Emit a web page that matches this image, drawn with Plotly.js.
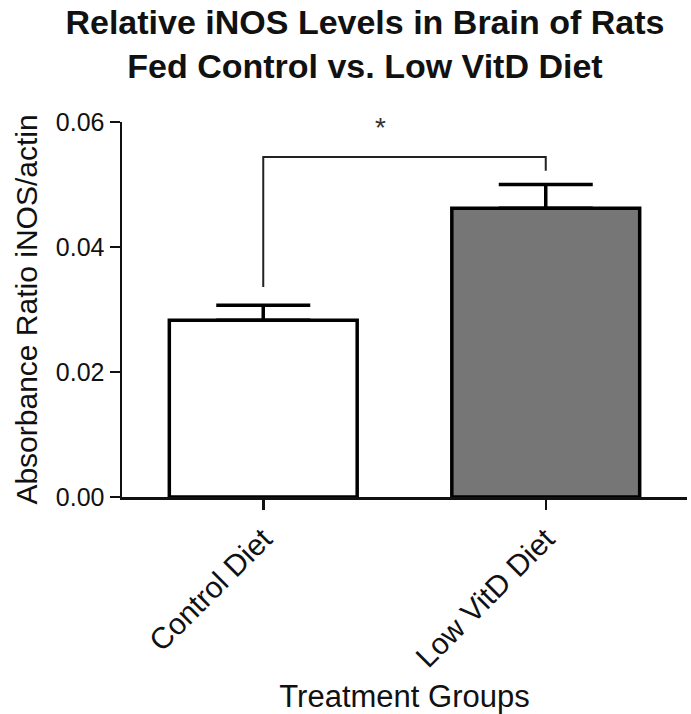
<!DOCTYPE html>
<html>
<head>
<meta charset="utf-8">
<script src="https://cdn.plot.ly/plotly-3.0.1.min.js"></script>
<style>html,body{margin:0;padding:0;background:#fff;}#chart{width:691px;height:714px;}</style>
</head>
<body>
<div id="chart"></div>
<script>
// Data
const categories = ["Control Diet", "Low VitD Diet"];
const means = [0.0283, 0.0462];
const semUpper = [0.0024, 0.0038];
const barColors = ["#ffffff", "#767676"];
// significance bracket (y values, per category: left leg bottom, top, top, right leg bottom)
const bracketX = ["Control Diet", "Control Diet", "Low VitD Diet", "Low VitD Diet"];
const bracketY = [0.0336, 0.0544, 0.0544, 0.0522];
const sigLabel = "*";
const yTicks = [0, 0.02, 0.04, 0.06];
const yTickText = ["0.00", "0.02", "0.04", "0.06"];

const font = "Liberation Sans, Arial, sans-serif";

const traces = [
  {
    type: "bar",
    x: categories,
    y: means,
    marker: { color: barColors, line: { color: "#000", width: 3.5 } },
    error_y: { type: "data", symmetric: false, array: semUpper, arrayminus: [0, 0], color: "#000", thickness: 3.5, width: 47 },
    hoverinfo: "skip",
    showlegend: false
  },
  {
    type: "scatter",
    mode: "lines",
    x: bracketX,
    y: bracketY,
    line: { color: "#222", width: 2 },
    hoverinfo: "skip",
    showlegend: false,
    cliponaxis: false
  }
];

const layout = {
  width: 691,
  height: 714,
  margin: { l: 122, r: 4, t: 122, b: 217 },
  paper_bgcolor: "#fff",
  plot_bgcolor: "#fff",
  font: { family: font, color: "#111", size: 24 },
  bargap: 0.335,
  title: {
    text: "<b>Relative iNOS Levels in Brain of Rats<br>Fed Control vs. Low VitD Diet</b>",
    font: { family: font, size: 34, color: "#111" },
    xref: "paper", x: 0.43, xanchor: "center",
    yref: "container", y: 0.952, yanchor: "top"
  },
  xaxis: {
    type: "category",
    range: [-0.5, 1.5],
    showline: true, linecolor: "#111", linewidth: 2.5,
    ticks: "outside", ticklen: 10, tickwidth: 2.5, tickcolor: "#111",
    tickangle: -45,
    tickfont: { family: font, size: 30, color: "#111" },
    showgrid: false, zeroline: false,
    title: { text: "Treatment Groups", font: { family: font, size: 31, color: "#111" }, standoff: 14 }
  },
  yaxis: {
    range: [0, 0.06],
    tickvals: yTicks, ticktext: yTickText,
    showline: true, linecolor: "#111", linewidth: 2.5,
    ticks: "outside", ticklen: 10, tickwidth: 2.5, tickcolor: "#111",
    tickfont: { family: font, size: 25, color: "#111" },
    showgrid: false, zeroline: false,
    title: { text: "Absorbance Ratio iNOS/actin", font: { family: font, size: 30, color: "#111" }, standoff: 10 }
  },
  annotations: [
    { x: 0.414, y: 0.0592, xref: "x", yref: "y", text: sigLabel, showarrow: false, font: { family: font, size: 28, color: "#333" }, yanchor: "middle" }
  ]
};

Plotly.newPlot("chart", traces, layout, { displayModeBar: false, staticPlot: true });
</script>
</body>
</html>
